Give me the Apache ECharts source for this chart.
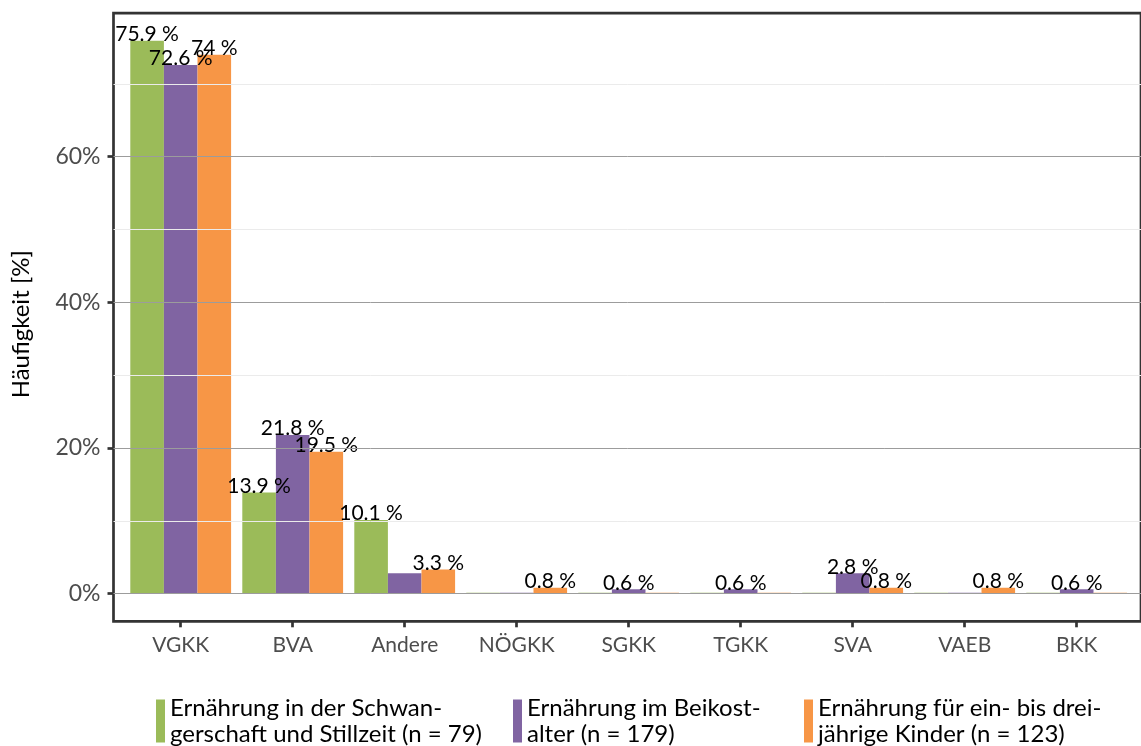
<!DOCTYPE html>
<html>
<head>
<meta charset="utf-8">
<script src="https://cdn.jsdelivr.net/npm/echarts@6/dist/echarts.min.js"></script>
<style>
html,body{margin:0;padding:0;background:#fff;}
#chart{width:1141px;height:746px;}
</style>
</head>
<body>
<div id="chart"></div>
<script>
// ---- data ----
const categories = ['VGKK', 'BVA', 'Andere', 'NÖGKK', 'SGKK', 'TGKK', 'SVA', 'VAEB', 'BKK'];
const seriesNames = [
  'Ernährung in der Schwan-\ngerschaft und Stillzeit (n = 79)',
  'Ernährung im Beikost-\nalter (n = 179)',
  'Ernährung für ein- bis drei-\njährige Kinder (n = 123)'
];
const schwangerschaft = [75.9, 13.9, 10.1, 0, 0, 0, 0, 0, 0];
const beikost = [72.6, 21.8, 2.8, 0, 0.6, 0.6, 2.8, 0, 0.6];
const kinder = [74, 19.5, 3.3, 0.8, 0, 0, 0.8, 0.8, 0];
const yMajorTicks = [0, 20, 40, 60];
const yMinorTicks = [10, 30, 50, 70];
const yMin = -3.795;
const yMax = 79.695;
// labels not printed in the original: [seriesIndex, categoryIndex]
const hiddenLabels = [[1, 2]];

// ---- layout / style ----
const colors = ['#9BBB59', '#8064A2', '#F79646'];
const FONT = 'Lato';
const plotTop = 13.2, plotBottom = 124.7;
const legendLefts = [151, 508, 799];

const seriesValues = [schwangerschaft, beikost, kinder];

const chart = echarts.init(document.getElementById('chart'), null, {renderer: 'canvas'});

const barSeries = seriesValues.map((vals, si) => ({
  name: seriesNames[si],
  type: 'bar',
  xAxisIndex: 0,
  yAxisIndex: 0,
  z: 3,
  barGap: '0%',
  barCategoryGap: '10%',
  barMinHeight: 1,
  itemStyle: {color: colors[si]},
  label: {
    show: true,
    position: 'top',
    distance: -4,
    color: '#000',
    fontSize: 21,
    fontFamily: FONT,
    formatter: p => {
      if (p.value === 0) return '';
      if (hiddenLabels.some(h => h[0] === si && h[1] === p.dataIndex)) return '';
      return p.value + ' %';
    }
  },
  data: vals
}));

const gridSeries = {
  type: 'line',
  xAxisIndex: 1,
  yAxisIndex: 1,
  z: 1,
  data: [],
  silent: true,
  markLine: {
    silent: true,
    symbol: 'none',
    label: {show: false},
    animation: false,
    data: yMinorTicks.map(v => ({yAxis: v, lineStyle: {color: '#ebebeb', width: 1, type: 'solid'}}))
      .concat(yMajorTicks.map(v => ({yAxis: v, lineStyle: {color: '#9c9c9c', width: 1, type: 'solid'}})))
  }
};

const option = {
  animation: false,
  backgroundColor: '#ffffff',
  textStyle: {fontFamily: FONT},
  grid: [
    {left: 124.7, right: 8.3, top: plotTop, bottom: plotBottom},
    {left: 113.5, right: -4, top: plotTop, bottom: plotBottom, show: true,
     borderColor: '#333333', borderWidth: 2.7, backgroundColor: 'transparent'}
  ],
  xAxis: [
    {
      gridIndex: 0,
      type: 'category',
      data: categories,
      axisLine: {show: false, onZero: false},
      axisTick: {show: true, alignWithLabel: true, length: 6, lineStyle: {color: '#333333', width: 2.7}},
      axisLabel: {color: '#4d4d4d', fontSize: 21, fontFamily: FONT, margin: 13},
      splitLine: {show: false}
    },
    {gridIndex: 1, type: 'value', min: 0, max: 1, show: false}
  ],
  yAxis: [
    {gridIndex: 0, type: 'value', min: yMin, max: yMax, show: false},
    {
      gridIndex: 1,
      type: 'value',
      min: yMin,
      max: yMax,
      name: 'Häufigkeit [%]',
      nameLocation: 'middle',
      nameRotate: 90,
      nameGap: 80,
      nameTextStyle: {color: '#000', fontSize: 24, fontFamily: FONT, padding: [0, 14, 0, 0]},
      axisLine: {show: false},
      axisTick: {show: true, customValues: yMajorTicks, length: 6, lineStyle: {color: '#333333', width: 2.7}},
      axisLabel: {show: true, customValues: yMajorTicks, formatter: '{value}%', color: '#4d4d4d', fontSize: 23, fontFamily: FONT, margin: 13},
      splitLine: {show: false}
    }
  ],
  legend: seriesNames.map((n, i) => ({
    data: [n],
    left: legendLefts[i],
    top: 690,
    orient: 'horizontal',
    icon: 'rect',
    itemWidth: 9,
    itemHeight: 43,
    selectedMode: false,
    textStyle: {color: '#000', fontSize: 24, lineHeight: 26, fontFamily: FONT}
  })),
  series: barSeries.concat([gridSeries])
};

chart.setOption(option);
</script>
</body>
</html>
